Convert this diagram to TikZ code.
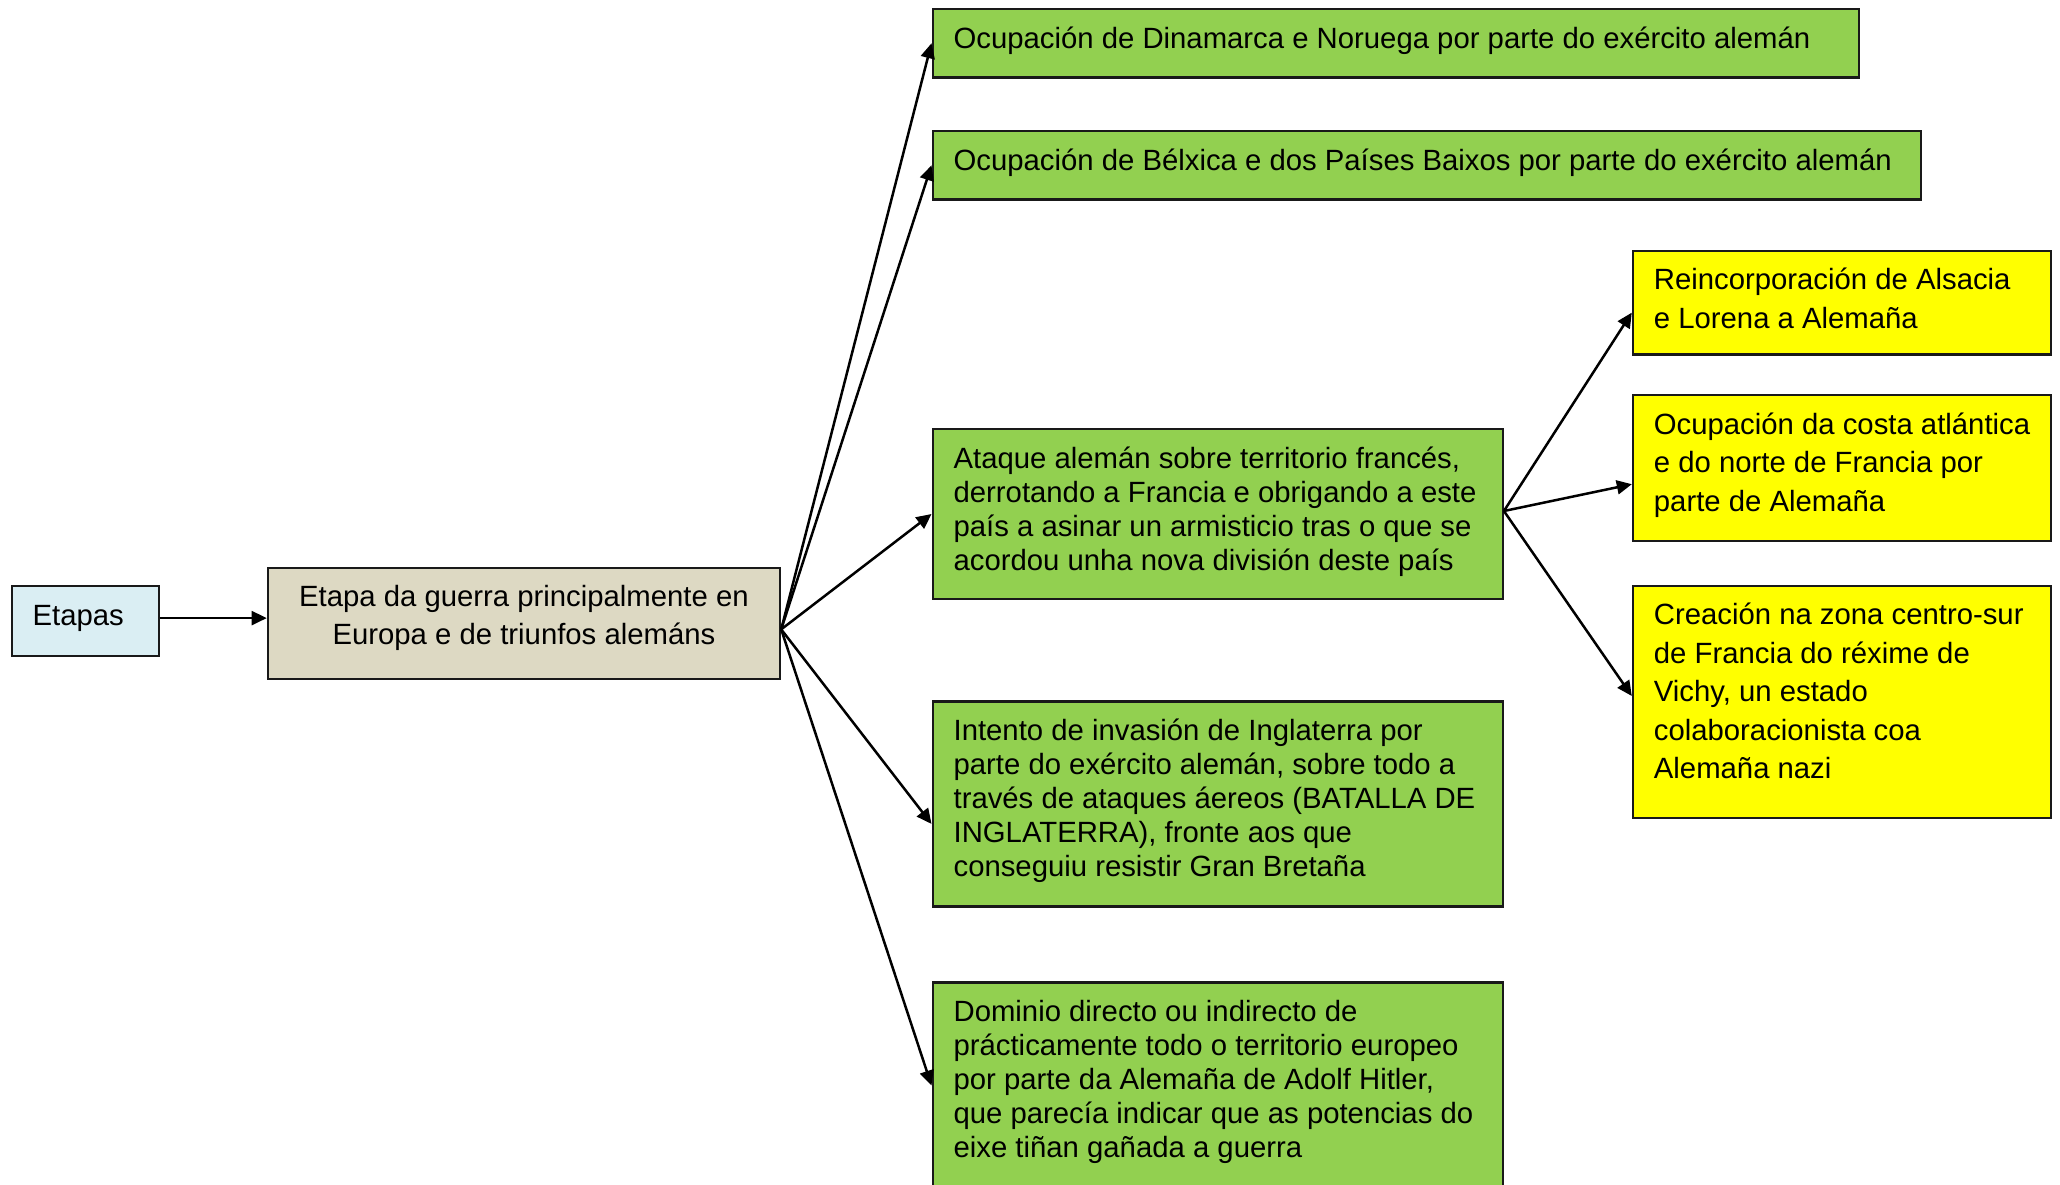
\documentclass[tikz,border=0pt]{standalone}
\usepackage{fontspec}
\setmainfont{Liberation Sans}
\usetikzlibrary{arrows.meta}
\newdimen\px \px=0.5pt
\definecolor{gfill}{HTML}{92D050}
\definecolor{yfill}{HTML}{FFFF00}
\definecolor{bfill}{HTML}{DDD9C3}
\definecolor{lfill}{HTML}{DAEEF3}
\newcommand{\lbox}[4]{\parbox[c][#2\px][t]{#1\px}{\fontsize{14.65pt}{#3}\selectfont\raggedright\leftskip=21\px\rule{0pt}{39\px}#4}}
\newcommand{\cbox}[4]{\parbox[c][#2\px][t]{#1\px}{\fontsize{14.65pt}{#3}\selectfont\centering\rule{0pt}{39\px}#4}}
\tikzset{
  boxbase/.style={draw=black!90, line width=1.1pt, inner sep=0pt, anchor=north west},
  gbox/.style={boxbase, fill=gfill},
  ybox/.style={boxbase, fill=yfill},
  mbox/.style={boxbase, fill=bfill},
  ebox/.style={boxbase, fill=lfill},
  conn/.style={line width=1.25pt, -{Triangle[length=7.5pt,width=7pt]}}
}
\begin{document}
\begin{tikzpicture}[x=0.5pt,y=-0.5pt]
\clip (0,0) rectangle (2060,1184);
\fill[white] (0,0) rectangle (2060,1184);
\node[ebox] (etapas) at (10.5,585) {\lbox{147}{70}{17pt}{Etapas}};
\node[mbox] (main) at (266.7,566.5) {\cbox{512.3}{111.5}{19pt}{Etapa da guerra principalmente en\\Europa e de triunfos alemáns}};
\node[gbox] (b1) at (931.5,8) {\lbox{926.2}{68.3}{17pt}{Ocupación de Dinamarca e Noruega por parte do exército alemán}};
\node[gbox] (b2) at (931.5,130) {\lbox{988}{68.4}{17pt}{Ocupación de Bélxica e dos Países Baixos por parte do exército alemán}};
\node[gbox] (b3) at (931.5,428) {\lbox{570.2}{169.8}{17pt}{Ataque alemán sobre territorio francés,\\derrotando a Francia e obrigando a este\\país a asinar un armisticio tras o que se\\acordou unha nova división deste país}};
\node[gbox] (b4) at (931.5,700.3) {\lbox{570.2}{205}{17pt}{Intento de invasión de Inglaterra por\\parte do exército alemán, sobre todo a\\través de ataques áereos (BATALLA DE\\INGLATERRA), fronte aos que\\conseguiu resistir Gran Bretaña}};
\node[gbox] (b5) at (931.5,981.4) {\lbox{570.2}{206}{17pt}{Dominio directo ou indirecto de\\prácticamente todo o territorio europeo\\por parte da Alemaña de Adolf Hitler,\\que parecía indicar que as potencias do\\eixe tiñan gañada a guerra}};
\node[ybox] (y1) at (1631.8,249.6) {\lbox{417.7}{103.8}{19.25pt}{Reincorporación de Alsacia\\e Lorena a Alemaña}};
\node[ybox] (y2) at (1631.8,394.2) {\lbox{417.7}{145.8}{19.25pt}{Ocupación da costa atlántica\\e do norte de Francia por\\parte de Alemaña}};
\node[ybox] (y3) at (1631.8,584.6) {\lbox{417.7}{232.6}{19.25pt}{Creación na zona centro-sur\\de Francia do réxime de\\Vichy, un estado\\colaboracionista coa\\Alemaña nazi}};
\draw[conn] ([yshift=1.5pt]etapas.east) -- ([yshift=1.5pt]etapas.east -| main.west);
\draw[conn] ([yshift=-3pt]main.east) -- (b1.west);
\draw[conn] ([yshift=-3pt]main.east) -- (b2.west);
\draw[conn] ([yshift=-3pt]main.east) -- (b3.west);
\draw[conn] ([yshift=-3pt]main.east) -- ([yshift=-10pt]b4.west);
\draw[conn] ([yshift=-3pt]main.east) -- (b5.west);
\draw[conn] ([yshift=1.5pt]b3.east) -- ([yshift=-5pt]y1.west);
\draw[conn] ([yshift=1.5pt]b3.east) -- ([yshift=-8pt]y2.west);
\draw[conn] ([yshift=1.5pt]b3.east) -- ([yshift=3pt]y3.west);
\end{tikzpicture}
\end{document}
